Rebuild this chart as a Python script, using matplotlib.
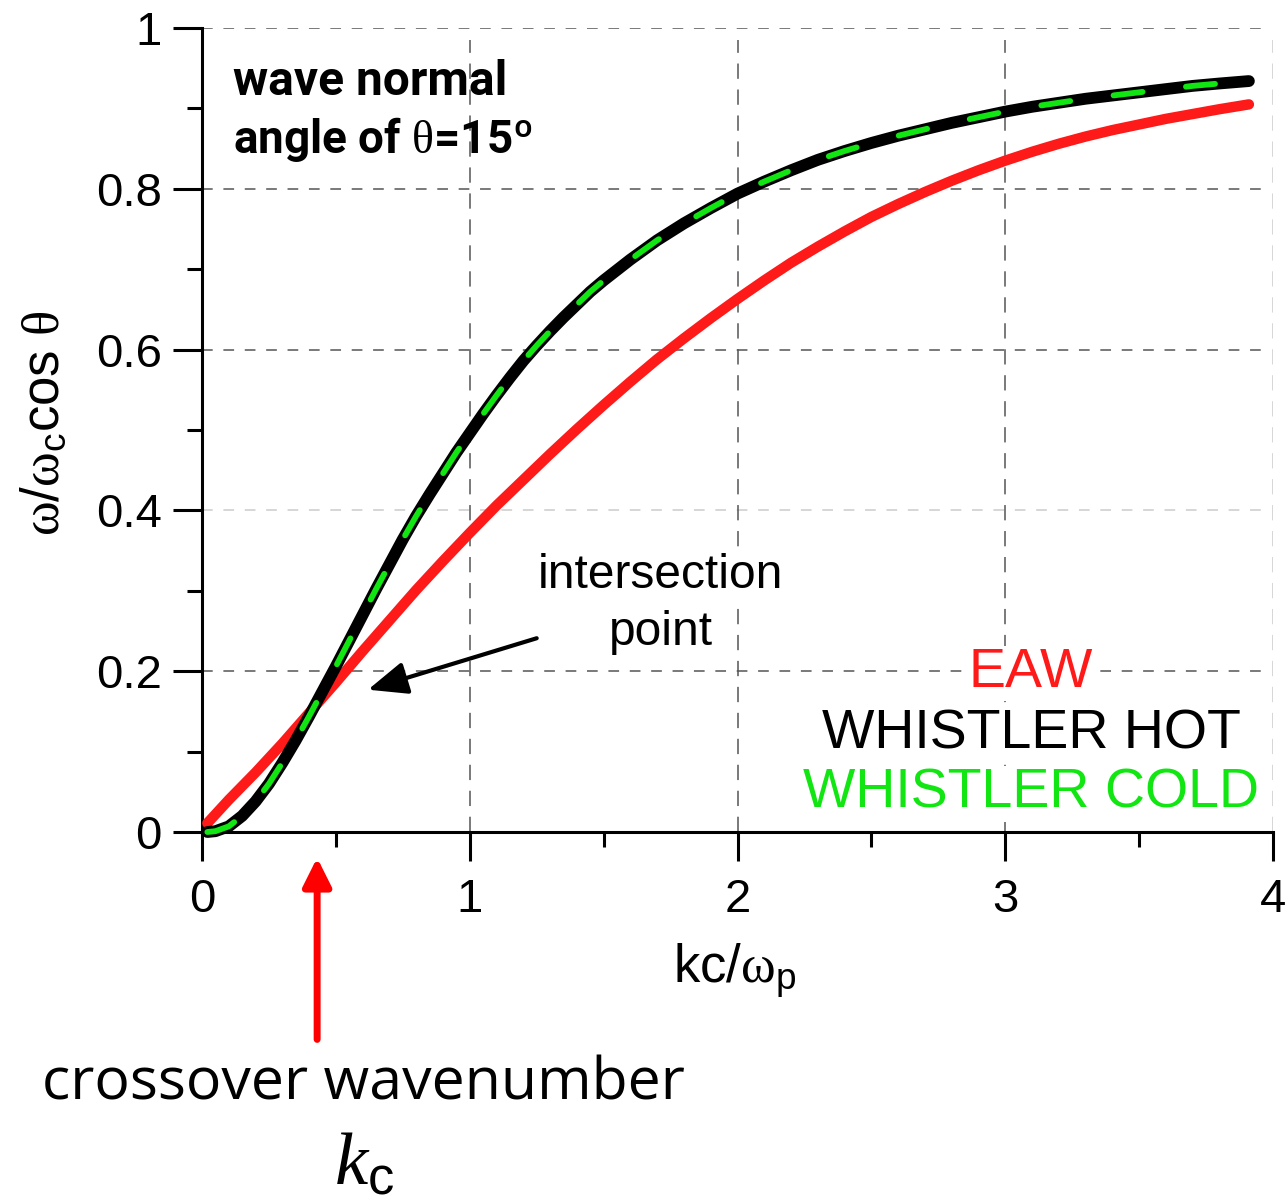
import matplotlib
matplotlib.use("Agg")
import matplotlib.pyplot as plt

plt.rcParams["font.family"] = ["Liberation Sans", "DejaVu Sans"]
plt.rcParams["mathtext.fontset"] = "custom"
plt.rcParams["mathtext.rm"] = "Liberation Serif"
plt.rcParams["mathtext.it"] = "Liberation Serif:italic"
plt.rcParams["mathtext.sf"] = "Liberation Sans"

# normalised wavenumber kc/omega_p for the whistler branches
k_whistler = [0.02, 0.05, 0.1, 0.15, 0.2, 0.25, 0.3, 0.35, 0.4, 0.45, 0.5,
              0.55, 0.6, 0.65, 0.7, 0.75, 0.8, 0.85, 0.9, 0.95, 1.0, 1.05,
              1.1, 1.15, 1.2, 1.25, 1.3, 1.35, 1.4, 1.45, 1.5, 1.6, 1.7, 1.8,
              1.9, 2.0, 2.1, 2.2, 2.3, 2.4, 2.5, 2.6, 2.7, 2.8, 2.9, 3.0, 3.1,
              3.2, 3.3, 3.4, 3.5, 3.6, 3.7, 3.8, 3.91]
# omega / (omega_c cos theta)
whistler_hot = [0.000, 0.001, 0.007, 0.020, 0.038, 0.060, 0.086, 0.114, 0.144,
                0.175, 0.206, 0.238, 0.270, 0.302, 0.333, 0.364, 0.393, 0.420,
                0.446, 0.472, 0.496, 0.520, 0.543, 0.565, 0.586, 0.605, 0.623,
                0.640, 0.656, 0.672, 0.686, 0.712, 0.736, 0.757, 0.776, 0.794,
                0.809, 0.823, 0.836, 0.847, 0.857, 0.866, 0.874, 0.882, 0.889,
                0.896, 0.902, 0.907, 0.912, 0.916, 0.920, 0.924, 0.928, 0.931,
                0.934]
whistler_cold = [0.000, 0.001, 0.007, 0.020, 0.038, 0.060, 0.086, 0.114, 0.144,
                 0.175, 0.206, 0.238, 0.270, 0.302, 0.333, 0.364, 0.393, 0.420,
                 0.446, 0.472, 0.496, 0.520, 0.543, 0.565, 0.586, 0.605, 0.623,
                 0.640, 0.656, 0.672, 0.686, 0.712, 0.736, 0.757, 0.776, 0.794,
                 0.809, 0.823, 0.836, 0.847, 0.857, 0.866, 0.874, 0.882, 0.889,
                 0.896, 0.902, 0.907, 0.912, 0.916, 0.920, 0.924, 0.928, 0.931,
                 0.934]

# electron acoustic wave branch
k_eaw = [0.02, 0.1, 0.2, 0.3, 0.4, 0.5, 0.6, 0.7, 0.8, 0.9, 1.0, 1.1, 1.2,
         1.3, 1.4, 1.5, 1.6, 1.7, 1.8, 1.9, 2.0, 2.1, 2.2, 2.3, 2.4, 2.5, 2.6,
         2.7, 2.8, 2.9, 3.0, 3.1, 3.2, 3.3, 3.4, 3.5, 3.6, 3.7, 3.8, 3.91]
eaw = [0.011, 0.040, 0.074, 0.110, 0.148, 0.186, 0.225, 0.263, 0.301, 0.337,
       0.372, 0.406, 0.438, 0.470, 0.501, 0.531, 0.560, 0.588, 0.614, 0.639,
       0.663, 0.686, 0.708, 0.728, 0.747, 0.765, 0.781, 0.796, 0.810, 0.823,
       0.835, 0.846, 0.856, 0.865, 0.873, 0.880, 0.887, 0.893, 0.899, 0.905]

x_ticks = [0, 1, 2, 3, 4]
y_ticks = [0, 0.2, 0.4, 0.6, 0.8, 1.0]
y_tick_labels = ["0", "0.2", "0.4", "0.6", "0.8", "1"]
k_cross = 0.43

RED = "#ff1a1a"
GREEN = "#12e612"

fig = plt.figure(figsize=(12.88, 12.04), dpi=100)
ax = fig.add_axes([202 / 1288, 1 - 832 / 1204, 1071 / 1288, 804 / 1204])
ax.set_xlim(0, 4)
ax.set_ylim(0, 1)

# dashed grid
for yv in [0.2, 0.6, 0.8, 1.0]:
    ax.axhline(yv, xmax=0.995, color="#555555", lw=1.1, ls=(0, (7, 7)), zorder=0)
ax.axhline(0.4, xmax=0.995, color="#cccccc", lw=1.1, ls=(0, (7, 7)), zorder=0)
for xv in [1, 2, 3]:
    ax.axvline(xv, ymax=0.985, color="#555555", lw=1.1, ls=(0, (10, 7)), zorder=0)
ax.axvline(4, ymax=0.985, color="#cccccc", lw=1.1, ls=(0, (10, 7)), zorder=0)

# dispersion curves
ax.plot(k_eaw, eaw, color=RED, lw=7.5, solid_capstyle="round",
        solid_joinstyle="round", clip_on=False, zorder=3)
ax.plot(k_whistler, whistler_hot, color="black", lw=8.5, solid_capstyle="round",
        solid_joinstyle="round", clip_on=False, zorder=4)
ax.plot(k_whistler, whistler_cold, color=GREEN, lw=4.2, ls=(0, (5, 7.5)),
        dash_capstyle="round", dash_joinstyle="round", clip_on=False, zorder=5)

# axes styling
for side in ["top", "right"]:
    ax.spines[side].set_visible(False)
for side in ["left", "bottom"]:
    ax.spines[side].set_linewidth(2.2)
ax.set_xticks(x_ticks)
ax.set_xticks([0.5, 1.5, 2.5, 3.5], minor=True)
ax.set_yticks(y_ticks)
ax.set_yticklabels(y_tick_labels)
ax.set_yticks([0.1, 0.3, 0.5, 0.7, 0.9], minor=True)
ax.tick_params(which="major", direction="out", length=21, width=2.2,
               labelsize=34, color="black")
ax.tick_params(which="minor", direction="out", length=11, width=2.2, color="black")
ax.tick_params(axis="x", which="major", pad=12)
ax.tick_params(axis="y", which="major", pad=8)

ax.set_xlabel(r"kc/$\mathrm{\omega}_{\mathsf{p}}$", fontsize=38)
ax.xaxis.set_label_coords(0.4977, -0.136)
ax.xaxis.label.set_va("top")
ax.set_ylabel(r"$\mathrm{\omega}$/$\mathrm{\omega}_{\mathsf{c}}$cos $\mathrm{\theta}$",
              fontsize=38)
ax.yaxis.label.set_va("center")
ax.yaxis.set_label_coords(-0.1466, 0.509)

# condition label
ax.text(0.116, 0.917, "wave normal", fontsize=34.5, fontweight="bold",
        family=["Roboto", "DejaVu Sans"], va="baseline", ha="left")
ax.text(0.116, 0.845, r"angle of $\mathrm{\theta}$=15º", fontsize=33,
        fontweight="bold", family=["Roboto", "DejaVu Sans"], va="baseline",
        ha="left")

# legend written as coloured text
label_box = dict(facecolor="white", edgecolor="none", pad=1)
ax.text(3.096, 0.180, "EAW", color=RED, fontsize=40, ha="center",
        va="baseline", bbox=label_box, zorder=6)
ax.text(3.096, 0.104, "WHISTLER HOT", color="black", fontsize=40, ha="center",
        va="baseline", bbox=label_box, zorder=6)
ax.text(3.096, 0.030, "WHISTLER COLD", color=GREEN, fontsize=40, ha="center",
        va="baseline", bbox=label_box, zorder=6)

# intersection annotation
ax.text(1.714, 0.3035, "intersection", fontsize=34.5, ha="center",
        va="baseline", bbox=label_box, zorder=6)
ax.text(1.714, 0.2326, "point", fontsize=34.5, ha="center", va="baseline",
        bbox=label_box, zorder=6)
ax.annotate("", xy=(0.62, 0.177), xytext=(1.25, 0.241),
            arrowprops=dict(arrowstyle="-|>,head_length=2.4,head_width=1.0",
                            color="black", lw=3, shrinkA=0, shrinkB=0))

# crossover wavenumber marker below the axis
ax.annotate("", xy=(k_cross, -0.032), xytext=(k_cross, -0.258),
            annotation_clip=False,
            arrowprops=dict(arrowstyle="-|>,head_length=1.7,head_width=0.85",
                            color="red", lw=5, shrinkA=0, shrinkB=0))
fig.text(42 / 1288, 1 - 1100 / 1204, "crossover wavenumber", fontsize=42.5,
         family=["Open Sans", "DejaVu Sans"], ha="left", va="baseline")
fig.text(364 / 1288, 1 - 1184 / 1204, r"$k_{\mathsf{c}}$", fontsize=54,
         ha="center", va="baseline")

fig.savefig("out.png", dpi=100, facecolor="white")
